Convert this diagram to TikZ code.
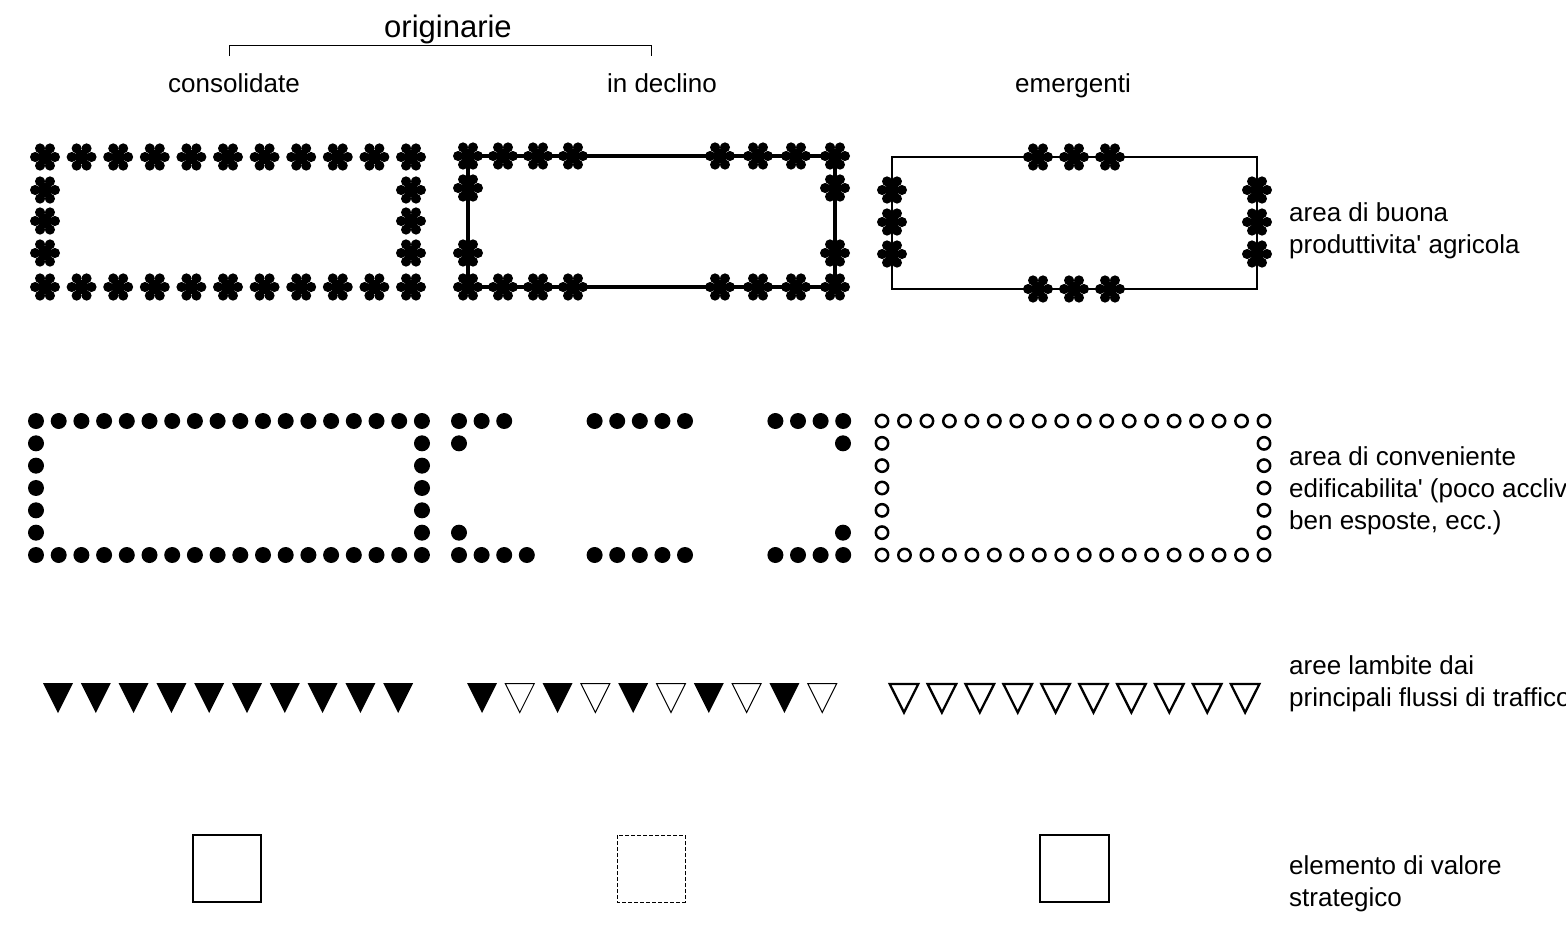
\documentclass[tikz,border=0pt]{standalone}
\usepackage{fontspec}
\setmainfont{Liberation Sans}[Ligatures=TeXOff]
\usetikzlibrary{calc}
\tikzset{
  lbl/.style={inner sep=0pt, anchor=base, font=\fontsize{26}{32}\selectfont},
  rlbl/.style={inner sep=0pt, anchor=base west, font=\fontsize{26}{32}\selectfont},
  flower/.pic={
    \fill (0,0) circle (7);
    \foreach \a in {0,60,...,300} {
      \fill (\a:10) circle (5);
      \fill ($(\a:10)+(\a+90:5)$) -- (0,0) -- ($(\a:10)+(\a-90:5)$) -- cycle;
    }
  },
  fdot/.style={fill=black},
  odot/.style={draw=black, line width=2.5, fill=white},
}
\begin{document}
\begin{tikzpicture}[x=1pt,y=-1pt]
\useasboundingbox (0,0) rectangle (1566,932);

% ---------- headers ----------
\node[inner sep=0pt, anchor=base, font=\fontsize{31}{32}\selectfont] (orig) at (448,37) {originarie};
\coordinate (bl) at (229,56);
\coordinate (br) at (651,56);
\draw[line width=1] (bl) -- ++(0,-11) -| (br);
\node[lbl] (cons) at (234,92) {consolidate};
\node[lbl] (decl) at (662,92) {in declino};
\node[lbl] (emer) at (1073,92) {emergenti};

% ---------- row 1 : asterisks ----------
% box 1
\foreach \k in {0,...,10} {
  \pic at ({45+36.6*\k},157) {flower};
  \pic at ({45+36.6*\k},287) {flower};
}
\foreach \y in {190,221,253} {
  \pic at (45,\y) {flower};
  \pic at (411,\y) {flower};
}
% box 2
\draw[line width=4] (468,156) rectangle (835,287);
\foreach \x in {468,503,538,573,720,758,796,835} {
  \pic at (\x,156) {flower};
  \pic at (\x,287) {flower};
}
\foreach \y in {188,253} {
  \pic at (468,\y) {flower};
  \pic at (835,\y) {flower};
}
% box 3
\draw[line width=2] (892,157) rectangle (1257,289);
\foreach \x in {1038,1074,1110} {
  \pic at (\x,157) {flower};
  \pic at (\x,289) {flower};
}
\foreach \y in {190,222,254} {
  \pic at (892,\y) {flower};
  \pic at (1257,\y) {flower};
}
\node[rlbl] (l1a) at (1289,221) {area di buona};
\node[rlbl] (l1b) at (1289,253) {produttivita' agricola};

% ---------- row 2 : dots ----------
% box 1
\foreach \k in {0,...,17} {
  \fill[fdot] ({36+22.7*\k},421) circle (8);
  \fill[fdot] ({36+22.7*\k},555) circle (8);
}
\foreach \j in {1,...,5} {
  \fill[fdot] (36,{421+22.33*\j}) circle (8);
  \fill[fdot] (422,{421+22.33*\j}) circle (8);
}
% box 2
\foreach \k in {0,1,2,6,7,8,9,10,14,15,16,17} {
  \fill[fdot] ({459+22.6*\k},421) circle (8);
}
\foreach \k in {0,1,2,3,6,7,8,9,10,14,15,16,17} {
  \fill[fdot] ({459+22.6*\k},555) circle (8);
}
\foreach \j in {1,5} {
  \fill[fdot] (459,{421+22.33*\j}) circle (8);
  \fill[fdot] (843,{421+22.33*\j}) circle (8);
}
% box 3
\foreach \k in {0,...,17} {
  \draw[odot] ({882+22.47*\k},421) circle (6.2);
  \draw[odot] ({882+22.47*\k},555) circle (6.2);
}
\foreach \j in {1,...,5} {
  \draw[odot] (882,{421+22.33*\j}) circle (6.2);
  \draw[odot] (1264,{421+22.33*\j}) circle (6.2);
}
\node[rlbl] (l2a) at (1289,465) {area di conveniente};
\node[rlbl] (l2b) at (1289,497) {edificabilita' (poco acclivi,};
\node[rlbl] (l2c) at (1289,529) {ben esposte, ecc.)};

% ---------- row 3 : triangles ----------
\foreach \k in {0,...,9} {
  \fill ({58+37.8*\k-15},683) -- ++(30,0) -- ++(-15,30) -- cycle;
}
\foreach \k in {0,2,4,6,8} {
  \fill ({482+37.8*\k-15},683) -- ++(30,0) -- ++(-15,30) -- cycle;
}
\foreach \k in {1,3,5,7,9} {
  \draw[line width=1, line join=miter] ({482+37.8*\k-14.5},683.5) -- ++(29,0) -- ++(-14.5,29) -- cycle;
}
\foreach \k in {0,...,9} {
  \draw[line width=2.3, line join=miter] ({904+37.9*\k-14.3},684) -- ++(28.6,0) -- ++(-14.3,28.5) -- cycle;
}
\node[rlbl] (l3a) at (1289,674) {aree lambite dai};
\node[rlbl] (l3b) at (1289,706) {principali flussi di traffico};

% ---------- row 4 : squares ----------
\draw[line width=1.3] (193,835) rectangle (261,902);
\draw[line width=1, dash pattern=on 4pt off 2pt] (617,835) rectangle (685,902);
\draw[line width=2.6] (1040,835) rectangle (1109,902);
\node[rlbl] (l4a) at (1289,874) {elemento di valore};
\node[rlbl] (l4b) at (1289,906) {strategico};
\end{tikzpicture}
\end{document}
